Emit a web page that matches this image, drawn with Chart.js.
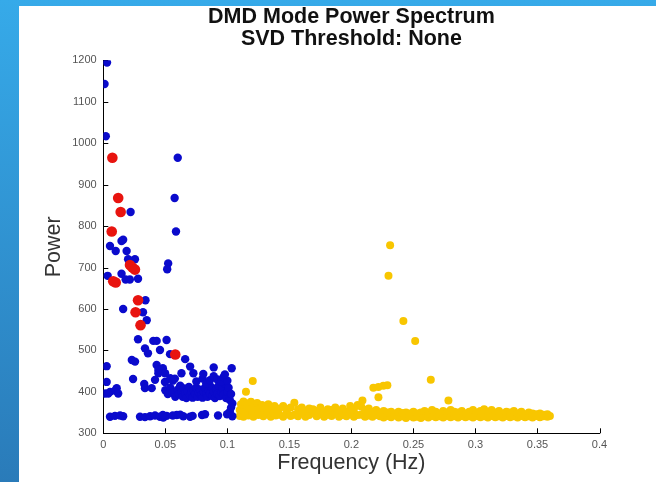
<!DOCTYPE html>
<html>
<head>
<meta charset="utf-8">
<title>DMD Mode Power Spectrum</title>
<script src="https://cdn.jsdelivr.net/npm/chart.js@4/dist/chart.umd.min.js"></script>
<style>
  html, body { margin: 0; padding: 0; }
  body { width: 656px; height: 482px; overflow: hidden; background: linear-gradient(to bottom, #36aae9, #2a7bb9); position: relative; }
  #wrap { position: absolute; left: 19px; top: 6px; width: 637px; height: 476px; background: #fff; }
</style>
</head>
<body>
<div id="wrap"><canvas id="myChart" width="637" height="476"></canvas></div>
<script>
// Osy a popisky
var xTicks = [0, 0.05, 0.1, 0.15, 0.2, 0.25, 0.3, 0.35, 0.4];
var xTickLabels = ['0', '0.05', '0.1', '0.15', '0.2', '0.25', '0.3', '0.35', '0.4'];
var yTickLabels = ['300', '400', '500', '600', '700', '800', '900', '1000', '1100', '1200'];

// Vybrané módy (červené) - [frekvence, výkon]
var redModes = [
  [0.0073, 965], [0.012, 868], [0.014, 834], [0.0068, 787], [0.0215, 706], [0.0235, 700],
  [0.0255, 695], [0.010, 664], [0.008, 667], [0.028, 621], [0.026, 592], [0.030, 561],
  [0.058, 490]
];

// Módy s nízkou frekvencí (modré)
var blueModes = [
  [0.003, 1195], [0.001, 1143], [0.002, 1017], [0.060, 965], [0.0575, 868], [0.022, 834],
  [0.0586, 787], [0.016, 767], [0.0147, 764], [0.0054, 752], [0.010, 740], [0.0188, 740],
  [0.0255, 720], [0.020, 720], [0.0523, 710], [0.0515, 696], [0.0035, 680], [0.0147, 685],
  [0.018, 671], [0.0214, 671], [0.028, 673], [0.016, 600], [0.034, 621], [0.032, 592],
  [0.035, 573], [0.028, 527], [0.0403, 523], [0.043, 523], [0.051, 525], [0.0336, 505],
  [0.036, 493], [0.0457, 501], [0.0538, 491], [0.066, 479], [0.023, 477], [0.0256, 473],
  [0.0027, 462], [0.043, 465], [0.0444, 453], [0.048, 457], [0.0444, 445], [0.070, 461],
  [0.063, 445], [0.024, 431], [0.0027, 424], [0.0417, 429], [0.0497, 424], [0.054, 433],
  [0.056, 427], [0.0577, 432], [0.033, 419], [0.0336, 409], [0.039, 409], [0.0014, 396],
  [0.0054, 400], [0.0094, 403], [0.0108, 409], [0.004, 396], [0.012, 396],
  // spodní řada
  [0.0054, 340], [0.0094, 342], [0.0135, 343], [0.016, 341], [0.0296, 340], [0.0336, 339],
  [0.0377, 341], [0.0417, 343], [0.0457, 340], [0.0484, 338], [0.0511, 342], [0.0592, 344],
  [0.0645, 341], [0.070, 340], [0.048, 344], [0.056, 343], [0.062, 345], [0.072, 342],
  [0.0796, 344], [0.082, 346], [0.0925, 343], [0.0998, 346], [0.102, 352], [0.104, 341],
  // hustý pás
  [0.050, 404], [0.052, 395], [0.054, 410], [0.056, 398], [0.058, 388], [0.060, 405],
  [0.061, 395], [0.062, 415], [0.063, 400], [0.064, 388], [0.065, 408], [0.066, 396],
  [0.067, 385], [0.068, 402], [0.069, 412], [0.070, 392], [0.071, 400], [0.072, 386],
  [0.073, 404], [0.074, 395], [0.075, 410], [0.076, 388], [0.077, 398], [0.078, 405],
  [0.079, 392], [0.080, 386], [0.081, 400], [0.082, 410], [0.083, 395], [0.084, 388],
  [0.085, 403], [0.086, 396], [0.087, 412], [0.088, 390], [0.089, 400], [0.090, 385],
  [0.091, 405], [0.092, 395], [0.093, 415], [0.094, 390], [0.095, 400], [0.096, 408],
  [0.097, 393], [0.098, 420], [0.099, 385], [0.100, 400], [0.101, 410], [0.102, 380],
  [0.103, 395], [0.104, 372], [0.103, 362],
  [0.075, 425], [0.080, 432], [0.083, 420], [0.086, 428], [0.089, 438], [0.092, 430],
  [0.095, 425], [0.097, 436], [0.100, 427], [0.098, 442], [0.0726, 445], [0.0806, 443],
  [0.0498, 445], [0.1035, 457], [0.089, 459]
];

// Módy s vyšší frekvencí (žluté)
var yellowModes = [
  [0.110, 342], [0.110, 356], [0.111, 370], [0.112, 348], [0.113, 377], [0.113, 340],
  [0.114, 362], [0.115, 352], [0.116, 372], [0.117, 343], [0.118, 360], [0.119, 376],
  [0.120, 350], [0.121, 340], [0.122, 366], [0.123, 355], [0.124, 373], [0.125, 344],
  [0.126, 360], [0.127, 350], [0.128, 368], [0.129, 341], [0.130, 357], [0.131, 364],
  [0.132, 346], [0.133, 370], [0.134, 352], [0.135, 340], [0.136, 362], [0.137, 349],
  [0.138, 366], [0.139, 343], [0.140, 356],
  [0.142, 345], [0.142, 360], [0.145, 340], [0.145, 366], [0.148, 350], [0.148, 358],
  [0.151, 342], [0.151, 362], [0.154, 345], [0.154, 374], [0.157, 341], [0.157, 358],
  [0.160, 348], [0.160, 362], [0.163, 340], [0.163, 355], [0.166, 344], [0.166, 360],
  [0.169, 350], [0.169, 358], [0.172, 341], [0.172, 354], [0.175, 346], [0.175, 362],
  [0.178, 340], [0.178, 352], [0.181, 345], [0.181, 358], [0.184, 342], [0.184, 356],
  [0.187, 348], [0.187, 362], [0.190, 340], [0.190, 354], [0.193, 344], [0.193, 360],
  [0.196, 341], [0.196, 352], [0.199, 346], [0.199, 366], [0.202, 340], [0.202, 358],
  [0.205, 344], [0.205, 368], [0.208, 345], [0.208, 364], [0.211, 340], [0.211, 356],
  [0.214, 343], [0.214, 360], [0.217, 340], [0.217, 352], [0.220, 344], [0.220, 356],
  [0.223, 341], [0.223, 350], [0.226, 338], [0.226, 354], [0.229, 342], [0.229, 350],
  [0.232, 339], [0.232, 352], [0.235, 343], [0.235, 348], [0.238, 338], [0.238, 352],
  [0.241, 341], [0.241, 349], [0.244, 337], [0.244, 350], [0.247, 342], [0.247, 348],
  [0.250, 338], [0.250, 352], [0.253, 340], [0.253, 348], [0.256, 337], [0.256, 350],
  [0.259, 341], [0.259, 354], [0.262, 338], [0.262, 350], [0.265, 342], [0.265, 356],
  [0.268, 339], [0.268, 352], [0.271, 341], [0.271, 348], [0.274, 338], [0.274, 354],
  [0.277, 342], [0.277, 350], [0.280, 339], [0.280, 356], [0.283, 341], [0.283, 352],
  [0.286, 338], [0.286, 350], [0.289, 342], [0.289, 354], [0.292, 339], [0.292, 348],
  [0.295, 341], [0.295, 352], [0.298, 338], [0.298, 356], [0.301, 342], [0.301, 350],
  [0.304, 339], [0.304, 354], [0.307, 341], [0.307, 358], [0.310, 338], [0.310, 352],
  [0.313, 342], [0.313, 356], [0.316, 339], [0.316, 350], [0.319, 341], [0.319, 354],
  [0.322, 338], [0.322, 348], [0.325, 342], [0.325, 352], [0.328, 339], [0.328, 350],
  [0.331, 341], [0.331, 354], [0.334, 338], [0.334, 348], [0.337, 342], [0.337, 352],
  [0.340, 339], [0.340, 346], [0.343, 341], [0.343, 350], [0.346, 338], [0.346, 348],
  [0.349, 342], [0.349, 346], [0.352, 339], [0.352, 348], [0.355, 341], [0.355, 345],
  [0.358, 340], [0.358, 346], [0.360, 342],
  // odlehlé body
  [0.115, 400], [0.1205, 426], [0.2089, 379], [0.2177, 410], [0.2218, 412], [0.2258, 415],
  [0.229, 416], [0.2218, 387], [0.2312, 754], [0.2299, 680], [0.2419, 571], [0.2514, 523],
  [0.264, 429], [0.2782, 379]
];

function toPoints(list) {
  return list.map(function (p) { return { x: p[0], y: p[1] }; });
}

// krátké značky dovnitř grafu (jako v MATLABu)
var inwardTicks = {
  id: 'inwardTicks',
  beforeDatasetsDraw: function (chart) {
    var ctx = chart.ctx, area = chart.chartArea;
    var xs = chart.scales.x, ys = chart.scales.y;
    ctx.save();
    ctx.strokeStyle = '#000';
    ctx.lineWidth = 1;
    ctx.beginPath();
    xs.ticks.forEach(function (t) {
      var px = Math.round(xs.getPixelForValue(t.value)) + 0.5;
      ctx.moveTo(px, area.bottom);
      ctx.lineTo(px, area.bottom - 5);
    });
    ys.ticks.forEach(function (t) {
      var py = Math.round(ys.getPixelForValue(t.value)) + 0.5;
      ctx.moveTo(area.left, py);
      ctx.lineTo(area.left + 5, py);
    });
    ctx.stroke();
    ctx.restore();
  }
};

var tickFont = { family: "'Liberation Sans', Arial, sans-serif", size: 11 };
var labelFont = { family: "'Liberation Sans', Arial, sans-serif", size: 21.5 };

var ctx = document.getElementById('myChart').getContext('2d');
var myChart = new Chart(ctx, {
  type: 'scatter',
  data: {
    datasets: [{
      label: 'Vybrané módy',
      data: toPoints(redModes),
      backgroundColor: '#e8140f',
      pointRadius: 5.3,
      borderWidth: 0
    }, {
      label: 'Nízké frekvence',
      data: toPoints(blueModes),
      backgroundColor: '#0a0acc',
      pointRadius: 4.2,
      borderWidth: 0
    }, {
      label: 'Vyšší frekvence',
      data: toPoints(yellowModes),
      backgroundColor: '#f8c600',
      pointRadius: 4,
      borderWidth: 0
    }]
  },
  options: {
    responsive: false,
    animation: false,
    layout: { padding: { top: 0, right: 56.5, bottom: 0, left: 0 } },
    plugins: {
      legend: { display: false },
      tooltip: { enabled: false },
      title: {
        display: true,
        fullSize: false,
        text: ['DMD Mode Power Spectrum', 'SVD Threshold: None'],
        color: '#111',
        font: { family: "'Liberation Sans', Arial, sans-serif", size: 21.5, weight: 'bold', lineHeight: 1.02 },
        padding: { top: 0, bottom: 10.5 }
      }
    },
    scales: {
      x: {
        type: 'linear',
        min: 0,
        max: 0.4,
        afterFit: function (s) { s.height = 48.7; },
        afterBuildTicks: function (s) { s.ticks = xTicks.map(function (v) { return { value: v }; }); },
        grid: { display: false, drawTicks: false },
        border: { display: true, color: '#000', width: 1 },
        ticks: {
          autoSkip: false,
          maxRotation: 0,
          padding: 5,
          color: '#555',
          font: tickFont,
          callback: function (value, index) { return xTickLabels[index]; }
        },
        title: {
          display: true,
          text: 'Frequency (Hz)',
          color: '#333',
          font: labelFont,
          padding: { top: 0, bottom: 5.7 }
        }
      },
      y: {
        type: 'linear',
        min: 300,
        max: 1200,
        afterFit: function (s) { s.width = 84.3; },
        grid: { display: false, drawTicks: false },
        border: { display: true, color: '#000', width: 1 },
        ticks: {
          stepSize: 100,
          padding: 6.6,
          color: '#555',
          font: tickFont,
          callback: function (value, index) { return yTickLabels[index]; }
        },
        title: {
          display: true,
          text: 'Power',
          color: '#333',
          font: labelFont,
          padding: { top: 22.3, bottom: 0 }
        }
      }
    }
  },
  plugins: [inwardTicks]
});
</script>
</body>
</html>
